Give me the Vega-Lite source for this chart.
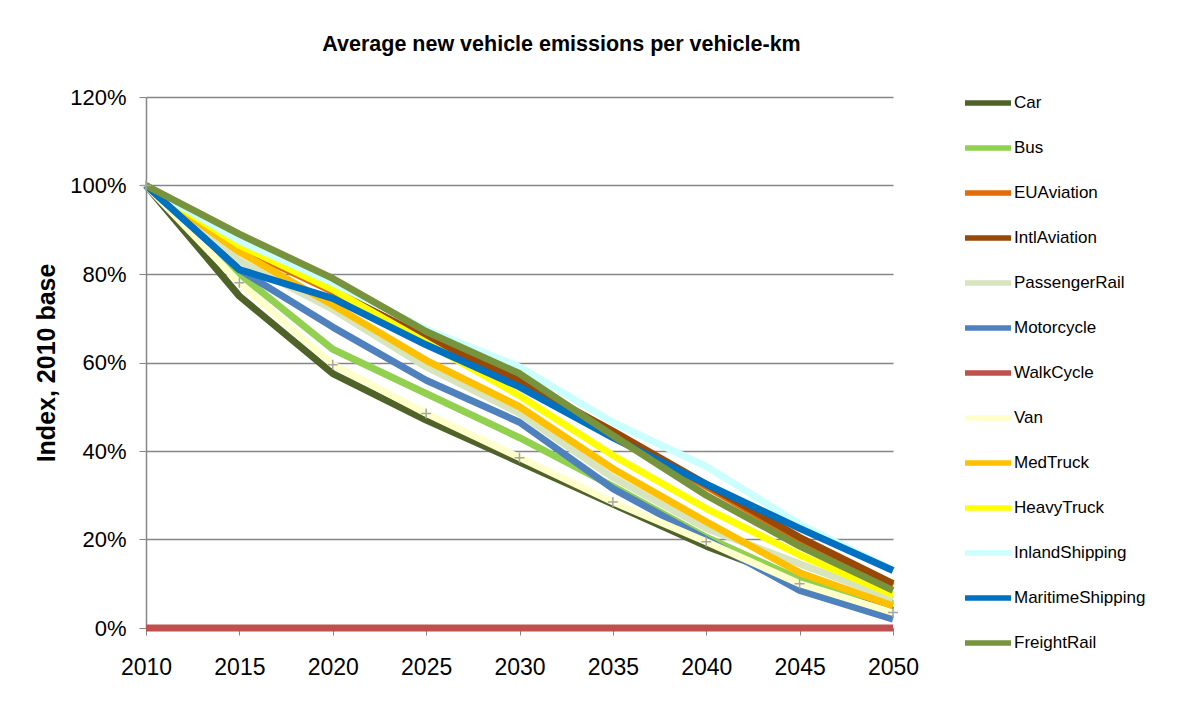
{
  "$schema": "https://vega.github.io/schema/vega-lite/v6.json",
  "width": 747,
  "height": 531,
  "autosize": {"type": "none"},
  "padding": {"left": 146, "top": 97, "right": 310, "bottom": 81},
  "background": "white",
  "config": {
    "font": "Liberation Sans",
    "view": {"stroke": null}
  },
  "title": {
    "text": "Average new vehicle emissions per vehicle-km",
    "fontSize": 21.5,
    "fontWeight": "bold",
    "color": "black",
    "anchor": "middle",
    "dx": 42,
    "offset": 22
  },
  "data": {
    "values": [
      {"series": "Car", "year": 2010, "value": 1.0},
      {"series": "Car", "year": 2015, "value": 0.75},
      {"series": "Car", "year": 2020, "value": 0.575},
      {"series": "Car", "year": 2025, "value": 0.47},
      {"series": "Car", "year": 2030, "value": 0.375},
      {"series": "Car", "year": 2035, "value": 0.28},
      {"series": "Car", "year": 2040, "value": 0.185},
      {"series": "Car", "year": 2045, "value": 0.105},
      {"series": "Car", "year": 2050, "value": 0.04},
      {"series": "Bus", "year": 2010, "value": 1.0},
      {"series": "Bus", "year": 2015, "value": 0.8},
      {"series": "Bus", "year": 2020, "value": 0.63},
      {"series": "Bus", "year": 2025, "value": 0.53},
      {"series": "Bus", "year": 2030, "value": 0.43},
      {"series": "Bus", "year": 2035, "value": 0.32},
      {"series": "Bus", "year": 2040, "value": 0.205},
      {"series": "Bus", "year": 2045, "value": 0.11},
      {"series": "Bus", "year": 2050, "value": 0.055},
      {"series": "EUAviation", "year": 2010, "value": 1.0},
      {"series": "EUAviation", "year": 2015, "value": 0.86},
      {"series": "EUAviation", "year": 2020, "value": 0.76},
      {"series": "EUAviation", "year": 2025, "value": 0.65},
      {"series": "EUAviation", "year": 2030, "value": 0.55},
      {"series": "EUAviation", "year": 2035, "value": 0.44},
      {"series": "EUAviation", "year": 2040, "value": 0.32},
      {"series": "EUAviation", "year": 2045, "value": 0.2},
      {"series": "EUAviation", "year": 2050, "value": 0.095},
      {"series": "IntlAviation", "year": 2010, "value": 1.0},
      {"series": "IntlAviation", "year": 2015, "value": 0.865},
      {"series": "IntlAviation", "year": 2020, "value": 0.765},
      {"series": "IntlAviation", "year": 2025, "value": 0.655},
      {"series": "IntlAviation", "year": 2030, "value": 0.56},
      {"series": "IntlAviation", "year": 2035, "value": 0.445},
      {"series": "IntlAviation", "year": 2040, "value": 0.325},
      {"series": "IntlAviation", "year": 2045, "value": 0.205},
      {"series": "IntlAviation", "year": 2050, "value": 0.1},
      {"series": "PassengerRail", "year": 2010, "value": 1.0},
      {"series": "PassengerRail", "year": 2015, "value": 0.83},
      {"series": "PassengerRail", "year": 2020, "value": 0.72},
      {"series": "PassengerRail", "year": 2025, "value": 0.59},
      {"series": "PassengerRail", "year": 2030, "value": 0.485},
      {"series": "PassengerRail", "year": 2035, "value": 0.34},
      {"series": "PassengerRail", "year": 2040, "value": 0.225},
      {"series": "PassengerRail", "year": 2045, "value": 0.145},
      {"series": "PassengerRail", "year": 2050, "value": 0.065},
      {"series": "Motorcycle", "year": 2010, "value": 1.0},
      {"series": "Motorcycle", "year": 2015, "value": 0.81},
      {"series": "Motorcycle", "year": 2020, "value": 0.68},
      {"series": "Motorcycle", "year": 2025, "value": 0.56},
      {"series": "Motorcycle", "year": 2030, "value": 0.465},
      {"series": "Motorcycle", "year": 2035, "value": 0.315},
      {"series": "Motorcycle", "year": 2040, "value": 0.2},
      {"series": "Motorcycle", "year": 2045, "value": 0.085},
      {"series": "Motorcycle", "year": 2050, "value": 0.02},
      {"series": "WalkCycle", "year": 2010, "value": 0.0},
      {"series": "WalkCycle", "year": 2015, "value": 0.0},
      {"series": "WalkCycle", "year": 2020, "value": 0.0},
      {"series": "WalkCycle", "year": 2025, "value": 0.0},
      {"series": "WalkCycle", "year": 2030, "value": 0.0},
      {"series": "WalkCycle", "year": 2035, "value": 0.0},
      {"series": "WalkCycle", "year": 2040, "value": 0.0},
      {"series": "WalkCycle", "year": 2045, "value": 0.0},
      {"series": "WalkCycle", "year": 2050, "value": 0.0},
      {"series": "Van", "year": 2010, "value": 1.0},
      {"series": "Van", "year": 2015, "value": 0.78},
      {"series": "Van", "year": 2020, "value": 0.595},
      {"series": "Van", "year": 2025, "value": 0.485},
      {"series": "Van", "year": 2030, "value": 0.385},
      {"series": "Van", "year": 2035, "value": 0.285},
      {"series": "Van", "year": 2040, "value": 0.195},
      {"series": "Van", "year": 2045, "value": 0.1},
      {"series": "Van", "year": 2050, "value": 0.035},
      {"series": "MedTruck", "year": 2010, "value": 1.0},
      {"series": "MedTruck", "year": 2015, "value": 0.85},
      {"series": "MedTruck", "year": 2020, "value": 0.73},
      {"series": "MedTruck", "year": 2025, "value": 0.605},
      {"series": "MedTruck", "year": 2030, "value": 0.5},
      {"series": "MedTruck", "year": 2035, "value": 0.36},
      {"series": "MedTruck", "year": 2040, "value": 0.24},
      {"series": "MedTruck", "year": 2045, "value": 0.125},
      {"series": "MedTruck", "year": 2050, "value": 0.05},
      {"series": "HeavyTruck", "year": 2010, "value": 1.0},
      {"series": "HeavyTruck", "year": 2015, "value": 0.865},
      {"series": "HeavyTruck", "year": 2020, "value": 0.765},
      {"series": "HeavyTruck", "year": 2025, "value": 0.645},
      {"series": "HeavyTruck", "year": 2030, "value": 0.525},
      {"series": "HeavyTruck", "year": 2035, "value": 0.39},
      {"series": "HeavyTruck", "year": 2040, "value": 0.27},
      {"series": "HeavyTruck", "year": 2045, "value": 0.165},
      {"series": "HeavyTruck", "year": 2050, "value": 0.075},
      {"series": "InlandShipping", "year": 2010, "value": 1.0},
      {"series": "InlandShipping", "year": 2015, "value": 0.875},
      {"series": "InlandShipping", "year": 2020, "value": 0.78},
      {"series": "InlandShipping", "year": 2025, "value": 0.675},
      {"series": "InlandShipping", "year": 2030, "value": 0.59},
      {"series": "InlandShipping", "year": 2035, "value": 0.465},
      {"series": "InlandShipping", "year": 2040, "value": 0.365},
      {"series": "InlandShipping", "year": 2045, "value": 0.235},
      {"series": "InlandShipping", "year": 2050, "value": 0.13},
      {"series": "MaritimeShipping", "year": 2010, "value": 1.0},
      {"series": "MaritimeShipping", "year": 2015, "value": 0.81},
      {"series": "MaritimeShipping", "year": 2020, "value": 0.745},
      {"series": "MaritimeShipping", "year": 2025, "value": 0.64},
      {"series": "MaritimeShipping", "year": 2030, "value": 0.545},
      {"series": "MaritimeShipping", "year": 2035, "value": 0.43},
      {"series": "MaritimeShipping", "year": 2040, "value": 0.325},
      {"series": "MaritimeShipping", "year": 2045, "value": 0.225},
      {"series": "MaritimeShipping", "year": 2050, "value": 0.13},
      {"series": "FreightRail", "year": 2010, "value": 1.0},
      {"series": "FreightRail", "year": 2015, "value": 0.89},
      {"series": "FreightRail", "year": 2020, "value": 0.79},
      {"series": "FreightRail", "year": 2025, "value": 0.67},
      {"series": "FreightRail", "year": 2030, "value": 0.575},
      {"series": "FreightRail", "year": 2035, "value": 0.435},
      {"series": "FreightRail", "year": 2040, "value": 0.3},
      {"series": "FreightRail", "year": 2045, "value": 0.185},
      {"series": "FreightRail", "year": 2050, "value": 0.085}
    ]
  },
  "encoding": {
    "x": {
      "field": "year",
      "type": "quantitative",
      "scale": {"domain": [2010, 2050], "nice": false, "zero": false},
      "axis": {
        "title": null,
        "values": [2010, 2015, 2020, 2025, 2030, 2035, 2040, 2045, 2050],
        "format": "d",
        "grid": false,
        "labelFontSize": 23,
        "labelColor": "black",
        "labelPadding": 21,
        "tickSize": 7,
        "tickColor": "#868686",
        "domainColor": "#868686",
        "labelFlush": false
      }
    },
    "y": {
      "field": "value",
      "type": "quantitative",
      "scale": {"domain": [0, 1.2], "nice": false},
      "axis": {
        "title": "Index, 2010 base",
        "titleFontSize": 25,
        "titleFontWeight": "bold",
        "titleColor": "black",
        "titlePadding": 10,
        "values": [0, 0.2, 0.4, 0.6, 0.8, 1.0, 1.2],
        "format": ".0%",
        "grid": true,
        "gridColor": "#868686",
        "gridWidth": 1.5,
        "labelFontSize": 22,
        "labelColor": "black",
        "labelPadding": 13,
        "tickSize": 7,
        "tickColor": "#868686",
        "domainColor": "#868686",
        "domainWidth": 1.5
      }
    }
  },
  "layer": [
    {
      "mark": {"type": "line", "strokeWidth": 7, "strokeJoin": "round"},
      "encoding": {
        "color": {
          "field": "series",
          "type": "nominal",
          "scale": {
            "domain": ["Car", "Bus", "EUAviation", "IntlAviation", "PassengerRail", "Motorcycle", "WalkCycle", "Van", "MedTruck", "HeavyTruck", "InlandShipping", "MaritimeShipping", "FreightRail"],
            "range": ["#4F6228", "#92D050", "#E36C09", "#984807", "#D7E4BD", "#4F81BD", "#C0504D", "#FFFFCC", "#FFC000", "#FFFF00", "#CCFFFF", "#0070C0", "#77933C"]
          },
          "legend": {
            "title": null,
            "orient": "none",
            "legendX": 816,
            "legendY": -20,
            "padding": 0,
            "symbolType": "stroke",
            "symbolSize": 2116,
            "symbolStrokeWidth": 5.5,
            "labelFontSize": 17,
            "labelColor": "black",
            "labelOffset": 0,
            "rowPadding": 8,
            "labelLimit": 300
          }
        }
      }
    },
    {
      "transform": [{"filter": "datum.series === 'Van'"}],
      "mark": {
        "type": "point",
        "shape": "M-1,0H1M0,-1V1",
        "size": 100,
        "filled": false,
        "stroke": "#A6A6A6",
        "strokeWidth": 1.5,
        "opacity": 1
      }
    }
  ]
}
